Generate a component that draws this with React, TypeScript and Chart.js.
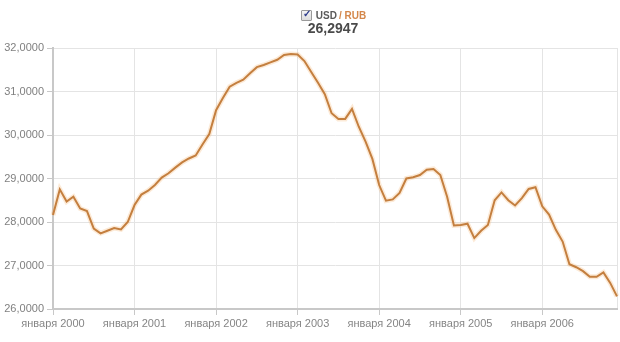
import React, { useEffect, useRef } from "react";
import { Chart, registerables } from "chart.js";

Chart.register(...registerables);

const years = [2000, 2001, 2002, 2003, 2004, 2005, 2006];
const monthNames = ["января", "февраля", "марта", "апреля", "мая", "июня", "июля", "августа", "сентября", "октября", "ноября", "декабря"];
const categories = years.flatMap((y) => monthNames.map((m) => `${m} ${y}`));

const usdRub = [
  28.16, 28.75, 28.47, 28.58, 28.31, 28.25, 27.85, 27.74, 27.80, 27.86, 27.83, 28.00,
  28.39, 28.63, 28.72, 28.85, 29.02, 29.12, 29.25, 29.37, 29.46, 29.53, 29.78, 30.02,
  30.57, 30.85, 31.11, 31.20, 31.27, 31.42, 31.56, 31.61, 31.67, 31.73, 31.84, 31.86,
  31.85, 31.70, 31.45, 31.20, 30.94, 30.50, 30.37, 30.37, 30.60, 30.19, 29.85, 29.45,
  28.85, 28.49, 28.52, 28.67, 29.00, 29.03, 29.08, 29.20, 29.22, 29.08, 28.58, 27.92,
  27.93, 27.96, 27.63, 27.80, 27.93, 28.50, 28.68, 28.50, 28.38, 28.55, 28.76, 28.80,
  28.36, 28.17, 27.82, 27.55, 27.03, 26.96, 26.87, 26.74, 26.74, 26.84, 26.60, 26.29,
];

const yTicks = [26, 27, 28, 29, 30, 31, 32];
const currentValue = "26,2947";

export default function App() {
  const ref = useRef<HTMLCanvasElement | null>(null);

  useEffect(() => {
    if (!ref.current) return;
    const isYearTick = (i: number) => i % 12 === 0 || i === categories.length - 1;
    const chart = new Chart(ref.current, {
      type: "line",
      data: {
        labels: categories,
        datasets: [
          {
            data: usdRub,
            borderColor: "#c47f3f",
            borderWidth: 2,
            pointRadius: 0,
            tension: 0,
          },
          {
            data: usdRub,
            borderColor: "rgba(245,195,140,0.35)",
            borderWidth: 5,
            pointRadius: 0,
            tension: 0,
          },
        ],
      },
      options: {
        animation: false,
        responsive: false,
        maintainAspectRatio: false,
        layout: { padding: { top: 48, right: 3, bottom: 0, left: 0 } },
        plugins: { legend: { display: false }, tooltip: { enabled: false } },
        scales: {
          x: {
            type: "category",
            offset: false,
            afterFit: (s: any) => {
              s.height = 33;
            },
            border: { color: "#c8c8c8", width: 2 },
            grid: {
              color: (c: any) => (isYearTick(c.index) ? "#e4e4e4" : "rgba(0,0,0,0)"),
              tickColor: (c: any) => (c.index % 12 === 0 ? "#c8c8c8" : "rgba(0,0,0,0)"),
              tickLength: 6,
              lineWidth: 1,
            },
            ticks: {
              autoSkip: false,
              maxRotation: 0,
              padding: 2,
              color: "#858585",
              font: { family: "'Liberation Sans', Arial, sans-serif", size: 11 },
              callback: (_v: any, i: number) => (i % 12 === 0 ? categories[i] : ""),
            },
          },
          y: {
            min: yTicks[0],
            max: yTicks[yTicks.length - 1],
            afterFit: (s: any) => {
              s.width = 53;
            },
            afterBuildTicks: (s: any) => {
              s.ticks = yTicks.map((v) => ({ value: v }));
            },
            border: { color: "#c8c8c8", width: 2 },
            grid: { color: "#e4e4e4", tickColor: "#c8c8c8", tickLength: 6, lineWidth: 1 },
            ticks: {
              padding: 3,
              color: "#808080",
              font: { family: "'Liberation Sans', Arial, sans-serif", size: 11 },
              callback: (v: any) => Number(v).toFixed(4).replace(".", ","),
            },
          },
        },
      },
    });
    return () => chart.destroy();
  }, []);

  return (
    <div style={{ position: "fixed", left: 0, top: 0, width: 620, height: 342, background: "#fff", fontFamily: "'Liberation Sans', Arial, sans-serif" }}>
      <canvas ref={ref} width={620} height={342} style={{ position: "absolute", left: 0, top: 0, width: 620, height: 342 }} />
      <div style={{ position: "absolute", left: 0, top: 8, width: 620, boxSizing: "border-box", display: "flex", justifyContent: "center", alignItems: "center", height: 14, paddingLeft: 47 }}>
        <span style={{ display: "inline-block", width: 9, height: 9, border: "1px solid #9a9a9a", background: "linear-gradient(#f4f4f4,#dcdcdc)", position: "relative", marginRight: 4, borderRadius: 1 }}>
          <span style={{ position: "absolute", left: 1, top: -3, fontSize: 10, fontWeight: 700, color: "#2b3a8a", lineHeight: "12px" }}>✓</span>
        </span>
        <span style={{ fontSize: 10, fontWeight: 700, color: "#5a5a5a" }}>USD</span>
        <span style={{ fontSize: 10, fontWeight: 700, color: "#d4874a", marginLeft: 2 }}>/ RUB</span>
      </div>
      <div style={{ position: "absolute", left: 0, top: 20, width: 620, textAlign: "center", paddingLeft: 46, boxSizing: "border-box", fontSize: 14, fontWeight: 700, color: "#4a4a4a", lineHeight: "17px" }}>
        {currentValue}
      </div>
    </div>
  );
}
